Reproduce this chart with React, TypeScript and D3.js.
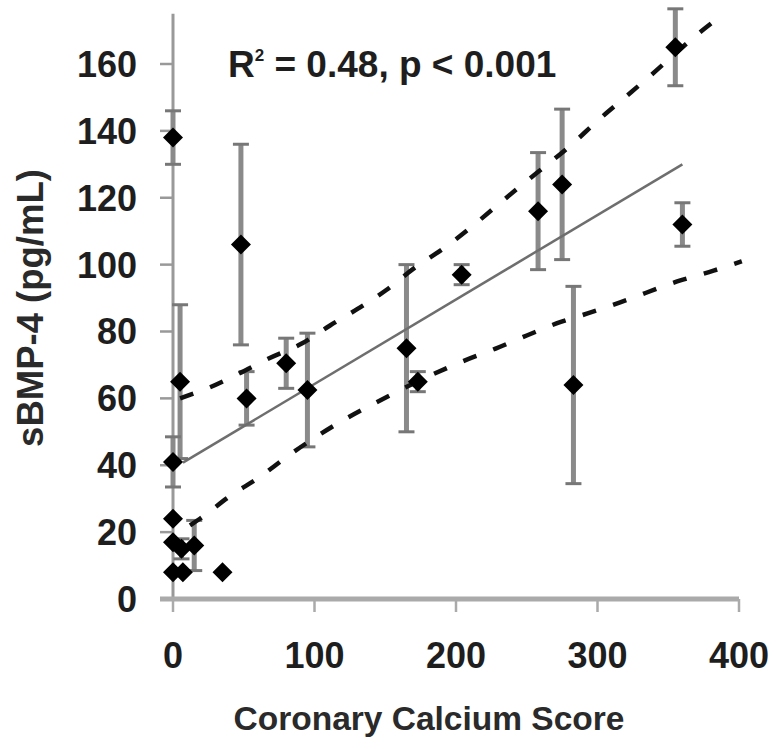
import React from 'react';
import { scaleLinear, line, curveMonotoneX } from 'd3';

const W = 776;
const H = 749;

// calcium score, sBMP-4 mean, error (±)
const calcium = [0, 48, 5, 0, 0, 0, 6, 15, 0, 7, 35, 52, 80, 95, 165, 173, 204, 258, 275, 283, 355, 360];
const bmp4 = [138, 106, 65, 41, 24, 17, 15, 16, 8, 8, 8, 60, 70.5, 62.5, 75, 65, 97, 116, 124, 64, 165, 112];
const bmpErr = [8, 30, 23, 7.5, 0, 0, 3, 7.5, 0, 0, 0, 8, 7.5, 17, 25, 3, 3, 17.5, 22.5, 29.5, 11.5, 6.5];

// regression line and its confidence band
const fitX = [7, 360];
const fitY = [40.8, 130];
const upperX = [5, 26, 47, 68, 91, 111, 131, 151, 170, 191, 247, 283, 300, 318, 336, 371, 387];
const upperY = [60, 63.3, 67.5, 72, 76.4, 81.8, 86.9, 92.5, 98.8, 104.8, 124, 136.4, 143, 149.5, 156, 169, 174.3];
const lowerX = [12, 19, 41, 61, 80, 120, 140, 206, 228, 250, 271, 293, 316, 358, 382, 402];
const lowerY = [22, 24, 31, 36.4, 42.4, 53.4, 58, 71.3, 74.9, 78.8, 82.4, 85.4, 88.7, 95.2, 98.2, 101];

const xTicks = [0, 100, 200, 300, 400];
const yTicks = [0, 20, 40, 60, 80, 100, 120, 140, 160];

const FONT = 'Liberation Sans, Arial, sans-serif';

export default function App() {
  const x = scaleLinear().domain([0, 400]).range([173, 739]);
  const y = scaleLinear().domain([0, 160]).range([599, 64]);

  const path = line<[number, number]>()
    .x(d => x(d[0]))
    .y(d => y(d[1]));
  const smooth = line<[number, number]>()
    .x(d => x(d[0]))
    .y(d => y(d[1]))
    .curve(curveMonotoneX);

  const fit = path(fitX.map((v, i) => [v, fitY[i]]));
  const upper = smooth(upperX.map((v, i) => [v, upperY[i]]));
  const lower = smooth(lowerX.map((v, i) => [v, lowerY[i]]));

  const r = 10;

  return (
    <svg width={W} height={H} style={{ position: 'absolute', left: 0, top: 0, background: '#fff' }}>
      {/* axes */}
      <line x1={x(0)} x2={x(0)} y1={y(175)} y2={y(0)} stroke="#999" strokeWidth={3} />
      {yTicks.map(t => (
        <g key={'y' + t}>
          <line x1={x(0) - 13} x2={x(0)} y1={y(t)} y2={y(t)} stroke="#999" strokeWidth={2.5} />
          <text x={137} y={y(t)} dy="0.36em" textAnchor="end" fontFamily={FONT} fontWeight="bold"
            fontSize={36} fill="#1e1e1e">{t}</text>
        </g>
      ))}
      <line x1={x(0) - 13} x2={x(400)} y1={y(0)} y2={y(0)} stroke="#aaa" strokeWidth={5} />
      {xTicks.map(t => (
        <g key={'x' + t}>
          <line x1={x(t)} x2={x(t)} y1={y(0)} y2={y(0) + 13} stroke="#aaa" strokeWidth={2.5} />
          <text x={x(t)} y={668} textAnchor="middle" fontFamily={FONT} fontWeight="bold"
            fontSize={36} fill="#1e1e1e">{t}</text>
        </g>
      ))}

      {/* error bars */}
      {calcium.map((c, i) => bmpErr[i] > 0 && (
        <g key={'e' + i}>
          <line x1={x(c)} x2={x(c)} y1={y(bmp4[i] + bmpErr[i])} y2={y(bmp4[i] - bmpErr[i])}
            stroke="#8a8a8a" strokeWidth={5} />
          <line x1={x(c) - 8} x2={x(c) + 8} y1={y(bmp4[i] + bmpErr[i])} y2={y(bmp4[i] + bmpErr[i])}
            stroke="#777" strokeWidth={3} />
          <line x1={x(c) - 8} x2={x(c) + 8} y1={y(bmp4[i] - bmpErr[i])} y2={y(bmp4[i] - bmpErr[i])}
            stroke="#777" strokeWidth={3} />
        </g>
      ))}

      {/* regression + confidence band */}
      <path d={fit || ''} fill="none" stroke="#6e6e6e" strokeWidth={2.5} />
      <path d={upper || ''} fill="none" stroke="#111" strokeWidth={4.5} strokeDasharray="14 18" />
      <path d={lower || ''} fill="none" stroke="#111" strokeWidth={4.5} strokeDasharray="14 18" />

      {/* points */}
      {calcium.map((c, i) => {
        const cx = x(c);
        const cy = y(bmp4[i]);
        return (
          <path key={'p' + i} d={`M${cx},${cy - r}L${cx + r},${cy}L${cx},${cy + r}L${cx - r},${cy}Z`} fill="#000" />
        );
      })}

      {/* annotation */}
      <text x={228} y={77} fontFamily={FONT} fontWeight="bold" fontSize={37} fill="#1e1e1e">
        R<tspan fontSize={17} dy={-16}>2</tspan><tspan dy={16}> = 0.48, p &lt; 0.001</tspan>
      </text>

      {/* axis titles */}
      <text x={429} y={730} textAnchor="middle" fontFamily={FONT} fontWeight="bold" fontSize={33.5} fill="#2a2a2a">
        Coronary Calcium Score
      </text>
      <text transform={`translate(43,308) rotate(-90)`} textAnchor="middle" fontFamily={FONT} fontWeight="bold"
        fontSize={36.5} fill="#2a2a2a">sBMP-4 (pg/mL)</text>
    </svg>
  );
}
